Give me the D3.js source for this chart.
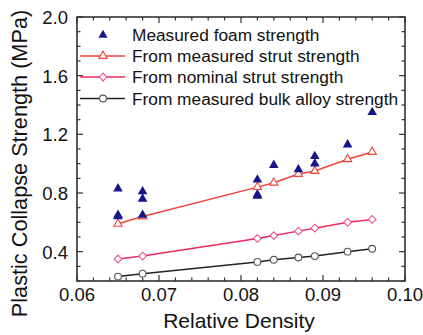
<!DOCTYPE html>
<html>
<head>
<meta charset="utf-8">
<script src="https://cdn.jsdelivr.net/npm/d3@7"></script>
<style>
  body { margin: 0; background: #fff; }
  text { font-family: "Liberation Sans", Arial, sans-serif; fill: #111; }
</style>
</head>
<body>
<svg class="chart" width="423" height="335"></svg>
<script>
// relative density values shared by the three model curves
const density = [0.065, 0.068, 0.082, 0.084, 0.087, 0.089, 0.093, 0.096];
const strutMeasured = [0.59, 0.64, 0.84, 0.87, 0.93, 0.95, 1.03, 1.08];
const strutNominal = [0.35, 0.37, 0.49, 0.51, 0.54, 0.56, 0.60, 0.62];
const bulkAlloy = [0.23, 0.25, 0.33, 0.345, 0.36, 0.37, 0.40, 0.42];

// measured foam strength (scattered points)
const foamX = [0.065, 0.065, 0.065, 0.068, 0.068, 0.068, 0.082, 0.082, 0.082, 0.084, 0.087, 0.089, 0.089, 0.093, 0.096];
const foamY = [0.83, 0.65, 0.64, 0.81, 0.76, 0.65, 0.89, 0.79, 0.78, 0.99, 0.96, 1.05, 1.00, 1.13, 1.35];

const xTicks = [0.06, 0.07, 0.08, 0.09, 0.10];
const yTicks = [0.4, 0.8, 1.2, 1.6, 2.0];
const legendLabels = ['Measured foam strength', 'From measured strut strength',
                      'From nominal strut strength', 'From measured bulk alloy strength'];

const plotL = 77, plotR = 405, plotT = 17, plotB = 281;

var svg = d3.select('.chart');

var x = d3.scaleLinear().domain([0.06, 0.10]).range([plotL, plotR]);
var y = d3.scaleLinear().domain([0.2, 2.0]).range([plotB, plotT]);

var frameColor = '#333';

// inward ticks on all four sides
var xMinor = d3.range(0.06, 0.1001, 0.002);
var yMinor = d3.range(0.2, 2.001, 0.1);

function isMajor(v, list) {
    return list.some(function(t) { return Math.abs(t - v) < 1e-6; });
}

var ticks = svg.append('g').attr('stroke', frameColor).attr('stroke-width', 1.2);
xMinor.forEach(function(v) {
    var len = isMajor(v, xTicks) ? 6 : 3.5;
    ticks.append('line').attr('x1', x(v)).attr('x2', x(v)).attr('y1', plotB).attr('y2', plotB - len);
    ticks.append('line').attr('x1', x(v)).attr('x2', x(v)).attr('y1', plotT).attr('y2', plotT + len);
});
yMinor.forEach(function(v) {
    var len = isMajor(v, yTicks) ? 6 : 3.5;
    ticks.append('line').attr('y1', y(v)).attr('y2', y(v)).attr('x1', plotL).attr('x2', plotL + len);
    ticks.append('line').attr('y1', y(v)).attr('y2', y(v)).attr('x1', plotR).attr('x2', plotR - len);
});

svg.append('rect')
    .attr('x', plotL).attr('y', plotT)
    .attr('width', plotR - plotL).attr('height', plotB - plotT)
    .attr('fill', 'none').attr('stroke', frameColor).attr('stroke-width', 1.6);

// tick labels
svg.selectAll('.xlab')
    .data(xTicks)
        .enter()
            .append('text')
                .attr('class', 'xlab')
                .attr('x', d => x(d))
                .attr('y', 301)
                .attr('text-anchor', 'middle')
                .style('font-size', '18.5px')
                .text(d => d.toFixed(2));

svg.selectAll('.ylab')
    .data(yTicks)
        .enter()
            .append('text')
                .attr('class', 'ylab')
                .attr('x', 68)
                .attr('y', d => y(d) + 7)
                .attr('text-anchor', 'end')
                .style('font-size', '18.5px')
                .text(d => d.toFixed(1));

// axis titles
svg.append('text')
    .attr('x', 239)
    .attr('y', 328)
    .attr('text-anchor', 'middle')
    .style('font-size', '21px')
    .text('Relative Density');

svg.append('text')
    .attr('transform', 'translate(27,' + 163.5 + ') rotate(-90)')
    .attr('text-anchor', 'middle')
    .style('font-size', '21.7px')
    .text('Plastic Collapse Strength (MPa)');

// model curves
var series = [
    { vals: strutMeasured, line: '#f0443c', marker: 'triangle', mcol: '#f0443c' },
    { vals: strutNominal, line: '#ee2a5a', marker: 'diamond', mcol: '#f0508c' },
    { vals: bulkAlloy, line: '#222', marker: 'circle', mcol: '#555' }
];

var line = d3.line()
    .x(d => x(d[0]))
    .y(d => y(d[1]));

function markerPath(type) {
    if (type === 'triangle') return d3.symbol(d3.symbolTriangle, 30)();
    if (type === 'diamond') return d3.symbol(d3.symbolSquare, 30)();
    return d3.symbol(d3.symbolCircle, 36)();
}
function markerRot(type) {
    return type === 'diamond' ? ' rotate(45)' : '';
}

series.forEach(function(s) {
    var pts = density.map((d, i) => [d, s.vals[i]]);
    svg.append('path')
        .attr('d', line(pts))
        .attr('fill', 'none')
        .attr('stroke', s.line)
        .attr('stroke-width', 1.5);
    svg.append('g').selectAll('path')
        .data(pts)
            .enter()
                .append('path')
                    .attr('d', markerPath(s.marker))
                    .attr('transform', d => 'translate(' + x(d[0]) + ',' + y(d[1]) + ')' + markerRot(s.marker))
                    .attr('fill', '#fff')
                    .attr('stroke', s.mcol)
                    .attr('stroke-width', 1.1);
});

// measured foam points
svg.append('g').selectAll('path')
    .data(foamX.map((d, i) => [d, foamY[i]]))
        .enter()
            .append('path')
                .attr('d', d3.symbol(d3.symbolTriangle, 40)())
                .attr('transform', d => 'translate(' + x(d[0]) + ',' + y(d[1]) + ')')
                .attr('fill', '#14148c');

// legend
var legendY = [35, 56, 77, 98.5];
var legend = svg.append('g');
legendLabels.forEach(function(label, i) {
    var ly = legendY[i];
    if (i === 0) {
        legend.append('path')
            .attr('d', d3.symbol(d3.symbolTriangle, 36)())
            .attr('transform', 'translate(103,' + ly + ')')
            .attr('fill', '#14148c');
    } else {
        var s = series[i - 1];
        legend.append('line')
            .attr('x1', 80).attr('x2', 125)
            .attr('y1', ly).attr('y2', ly)
            .attr('stroke', s.line).attr('stroke-width', 1.5);
        legend.append('path')
            .attr('d', markerPath(s.marker))
            .attr('transform', 'translate(103,' + ly + ')' + markerRot(s.marker))
            .attr('fill', '#fff')
            .attr('stroke', s.mcol)
            .attr('stroke-width', 1.1);
    }
    legend.append('text')
        .attr('x', 132)
        .attr('y', ly + 6)
        .style('font-size', '17.3px')
        .text(label);
});
</script>
</body>
</html>
